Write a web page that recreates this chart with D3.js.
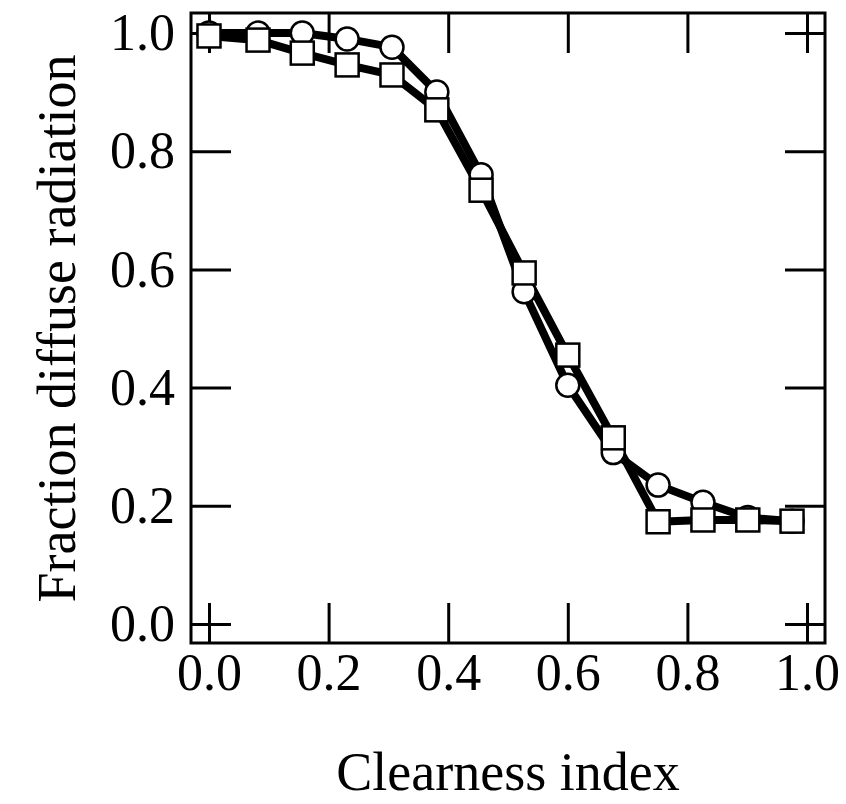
<!DOCTYPE html>
<html>
<head>
<meta charset="utf-8">
<script src="https://cdn.jsdelivr.net/npm/d3@7"></script>
<style>
  body { margin: 0; background: #fff; }
  svg text { font-family: "Liberation Serif", "Times New Roman", serif; fill: #000; }
</style>
</head>
<body>
<svg id="chart" width="846" height="804"></svg>
<script>
// Clearness index values shared by both series
const clearness = [0, 0.082, 0.156, 0.231, 0.306, 0.381, 0.455, 0.527, 0.600, 0.676, 0.751, 0.826, 0.901, 0.975];
// Fraction diffuse radiation, circle series
const circleSeries = [1.0, 1.0, 1.0, 0.99, 0.976, 0.90, 0.76, 0.562, 0.404, 0.29, 0.235, 0.206, 0.18, 0.174];
// Fraction diffuse radiation, square series
const squareSeries = [0.995, 0.988, 0.966, 0.946, 0.929, 0.87, 0.734, 0.594, 0.455, 0.315, 0.173, 0.176, 0.176, 0.174];
const tickValues = [0, 0.2, 0.4, 0.6, 0.8, 1.0];

const svg = d3.select('#chart');

const x = d3.scaleLinear().domain([0, 1]).range([209, 807]);
const y = d3.scaleLinear().domain([0, 1]).range([624, 33]);

const frame = {left: 191, right: 825, top: 13, bottom: 643},
    tickLen = 40,
    fmt = d3.format('.1f');

//Frame.
svg.append('rect')
    .attr('x', frame.left)
    .attr('y', frame.top)
    .attr('width', frame.right - frame.left)
    .attr('height', frame.bottom - frame.top)
    .style('fill', 'none')
    .style('stroke', '#000')
    .style('stroke-width', 3);

//Inward ticks on all four sides.
const axisBottom = d3.axisBottom(x).tickValues(tickValues).tickSize(-tickLen).tickFormat(fmt).tickPadding(10),
    axisTop = d3.axisTop(x).tickValues(tickValues).tickSize(-tickLen).tickFormat(''),
    axisLeft = d3.axisLeft(y).tickValues(tickValues).tickSize(-tickLen).tickFormat(fmt).tickPadding(16),
    axisRight = d3.axisRight(y).tickValues(tickValues).tickSize(-tickLen).tickFormat('');

[[axisBottom, `translate(0,${frame.bottom})`],
 [axisTop, `translate(0,${frame.top})`],
 [axisLeft, `translate(${frame.left},0)`],
 [axisRight, `translate(${frame.right},0)`]]
    .forEach(([axis, t]) => {
        const g = svg.append('g').attr('transform', t).call(axis);
        g.select('.domain').remove();
        g.selectAll('.tick line').style('stroke', '#000').style('stroke-width', 3);
        g.selectAll('.tick text')
            .style('font-size', '52px')
            .style('font-family', '"Liberation Serif", serif');
    });

//Lines.
const line = (vals) => d3.line()
    .x((d, i) => x(clearness[i]))
    .y(d => y(d))(vals);

[squareSeries, circleSeries].forEach(vals => {
    svg.append('path')
        .attr('d', line(vals))
        .style('fill', 'none')
        .style('stroke', '#000')
        .style('stroke-width', 8)
        .style('stroke-linejoin', 'round');
});

//Markers: circles first, squares on top.
svg.selectAll('.circle-mark')
    .data(circleSeries)
    .enter()
    .append('circle')
    .attr('class', 'circle-mark')
    .attr('cx', (d, i) => x(clearness[i]))
    .attr('cy', d => y(d))
    .attr('r', 11.5)
    .style('fill', '#fff')
    .style('stroke', '#000')
    .style('stroke-width', 2.5);

const sq = 23;
svg.selectAll('.square-mark')
    .data(squareSeries)
    .enter()
    .append('rect')
    .attr('class', 'square-mark')
    .attr('x', (d, i) => x(clearness[i]) - sq / 2)
    .attr('y', d => y(d) - sq / 2)
    .attr('width', sq)
    .attr('height', sq)
    .style('fill', '#fff')
    .style('stroke', '#000')
    .style('stroke-width', 2.5);

//Axis titles.
svg.append('text')
    .attr('x', (x(0) + x(1)) / 2)
    .attr('y', 790)
    .attr('text-anchor', 'middle')
    .style('font-size', '54px')
    .text('Clearness index');

svg.append('text')
    .attr('transform', `translate(75,${(y(0) + y(1)) / 2}) rotate(-90)`)
    .attr('text-anchor', 'middle')
    .style('font-size', '54px')
    .text('Fraction diffuse radiation');
</script>
</body>
</html>
